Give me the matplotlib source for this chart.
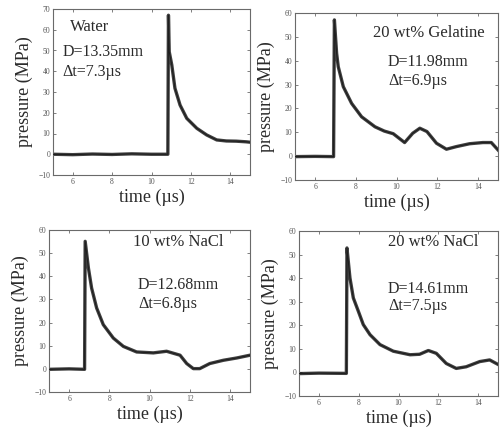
import matplotlib
matplotlib.use('Agg')
import matplotlib.pyplot as plt

plt.rcParams['font.family'] = ['Liberation Serif', 'DejaVu Serif']

# Pressure traces (time in us, pressure in MPa)
water_t = [5.0, 6.0, 7.0, 8.0, 9.0, 10.0, 10.83, 10.86, 10.9, 11.03, 11.19, 11.45,
           11.79, 12.3, 12.8, 13.31, 13.8, 14.3, 14.8, 15.0]
water_p = [0.0, -0.2, 0.1, -0.1, 0.2, 0.0, 0.0, 67.0, 49.4, 43.0, 31.8, 23.7,
           17.3, 12.5, 9.3, 6.9, 6.4, 6.3, 6.0, 5.8]

gel_t = [5.0, 6.0, 6.9, 6.94, 7.05, 7.13, 7.38, 7.79, 8.28, 8.94, 9.4, 9.84, 10.4,
         10.8, 11.15, 11.5, 11.97, 12.46, 12.95, 13.6, 14.26, 14.67, 15.0]
gel_p = [-0.2, -0.1, -0.2, 57.1, 43.1, 37.5, 29.1, 22.1, 16.5, 12.3, 10.5, 9.4, 5.7,
         9.6, 11.7, 10.3, 5.4, 2.9, 4.0, 5.2, 5.7, 5.7, 2.6]

nacl10_t = [5.0, 6.0, 6.77, 6.8, 6.96, 7.12, 7.37, 7.7, 8.2, 8.7, 9.36, 10.19,
            10.85, 11.52, 11.85, 12.18, 12.5, 13.0, 13.67, 14.34, 15.0]
nacl10_p = [-0.2, 0.0, -0.2, 55.1, 43.6, 34.9, 26.3, 19.1, 13.3, 9.7, 7.3, 6.9,
            7.6, 5.9, 2.3, 0.1, 0.1, 2.3, 3.7, 4.7, 5.9]

nacl20_t = [5.0, 6.0, 7.38, 7.41, 7.56, 7.73, 7.98, 8.23, 8.57, 9.07, 9.74, 10.58,
            11.06, 11.5, 11.9, 12.4, 12.9, 13.4, 14.08, 14.58, 15.0]
nacl20_p = [-0.5, -0.3, -0.4, 52.8, 40.1, 31.6, 26.0, 20.3, 16.0, 11.8, 9.0, 7.5,
            7.7, 9.3, 8.1, 3.8, 1.7, 2.4, 4.6, 5.3, 3.4]

titles = ["Water", "20 wt% Gelatine", "10 wt% NaCl", "20 wt% NaCl"]
diameters = ["D=13.35mm", "D=11.98mm", "D=12.68mm", "D=14.61mm"]
delays = ["\u0394t=7.3\u00b5s", "\u0394t=6.9\u00b5s", "\u0394t=6.8\u00b5s", "\u0394t=7.5\u00b5s"]
y_tops = [70, 60, 60, 60]

W, H = 503, 433
TRACE = '#1e1e1e'
INK = '#2b2b2b'
FRAME = '#6a6a6a'


def px_rect(left, right, top, bottom):
    return [left / W, (H - bottom) / H, (right - left) / W, (bottom - top) / H]


# panel rect, title pos, D pos, dt pos (axes fraction)
panels = [
    (px_rect(53, 250, 9, 175), (0.086, 0.89), (0.05, 0.74), (0.05, 0.62)),
    (px_rect(295, 498, 13, 180), (0.384, 0.88), (0.458, 0.707), (0.458, 0.593)),
    (px_rect(49, 250, 230, 392), (0.418, 0.926), (0.443, 0.66), (0.443, 0.543)),
    (px_rect(299, 498, 231, 396), (0.447, 0.933), (0.447, 0.648), (0.447, 0.545)),
]
traces = [(water_t, water_p), (gel_t, gel_p), (nacl10_t, nacl10_p), (nacl20_t, nacl20_p)]

fig = plt.figure(figsize=(W / 100, H / 100), dpi=100, facecolor='white')

for i, (rect, tpos, dpos, dtpos) in enumerate(panels):
    ax = fig.add_axes(rect)
    t, p = traces[i]
    # thin rise edge, then the thick noisy trace
    ax.plot(t, p, color=TRACE, lw=0.8, zorder=3)
    ax.plot(t, p, color=TRACE, lw=2.4, alpha=0.85, solid_joinstyle='round', zorder=2)

    ax.set_xlim(5, 15)
    ax.set_ylim(-10, y_tops[i])
    ax.set_xticks([6, 8, 10, 12, 14])
    ax.set_yticks(list(range(-10, y_tops[i] + 1, 10)))
    ax.tick_params(direction='in', top=True, right=True, length=2.5, width=0.6,
                   labelsize=5.5, colors=FRAME, labelcolor='#555555', pad=2)
    for s in ax.spines.values():
        s.set_color(FRAME)
        s.set_linewidth(0.8)

    ax.set_xlabel("time (\u00b5s)", fontsize=13, color=INK, labelpad=2)
    ax.set_ylabel("pressure (MPa)", fontsize=13, color=INK, labelpad=4)

    ax.text(*tpos, titles[i], transform=ax.transAxes, fontsize=12, color=INK,
            ha='left', va='center')
    ax.text(*dpos, diameters[i], transform=ax.transAxes, fontsize=11.5, color=INK,
            ha='left', va='center')
    ax.text(*dtpos, delays[i], transform=ax.transAxes, fontsize=11.5, color=INK,
            ha='left', va='center')

fig.savefig('out.png', dpi=100, facecolor='white')
